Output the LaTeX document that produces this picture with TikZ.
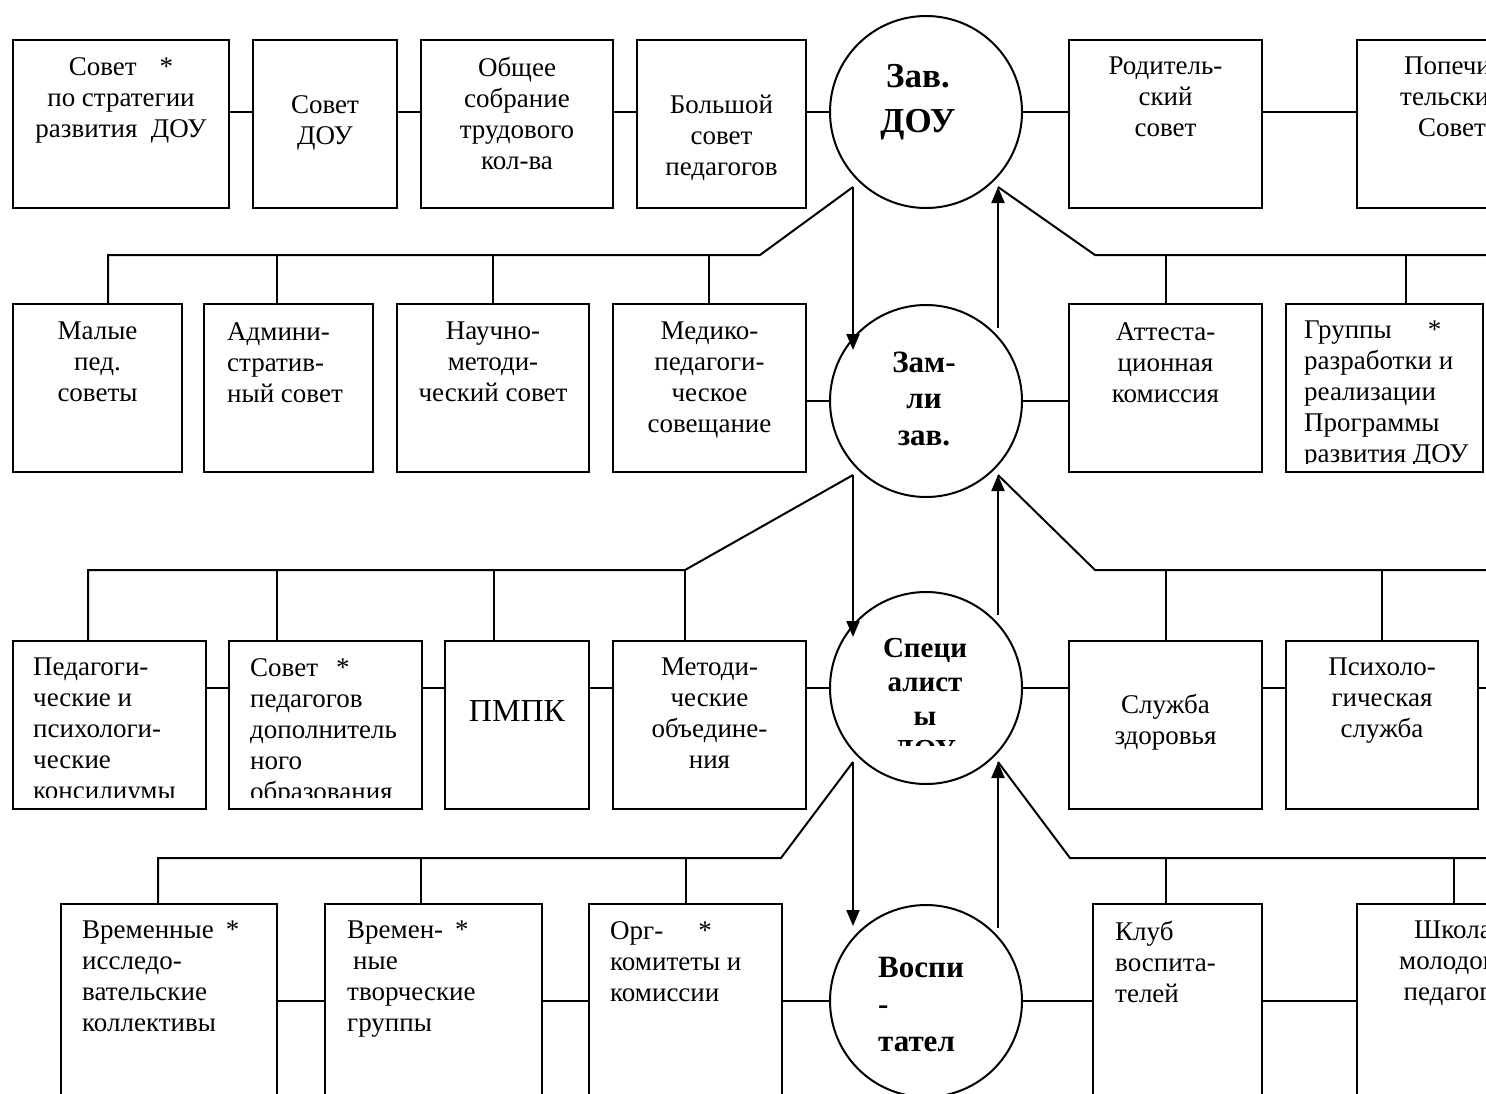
\documentclass[tikz,border=0pt]{standalone}
\usepackage{fontspec}
\setmainfont{Liberation Serif}
\usepackage{tikz}
\usetikzlibrary{positioning,calc,arrows.meta}

\tikzset{
  unit/.style={draw, line width=2pt, inner sep=0pt, outer sep=0pt, minimum height=168pt},
  head/.style={draw, circle, line width=2pt, inner sep=0pt, outer sep=0pt, minimum size=192pt},
  txt/.style={inner sep=0pt, anchor=north, align=center, yshift=-3pt, font=\fontsize{27}{31}\selectfont, execute at begin node=\strut},
  ltxt/.style={txt, anchor=north west, align=left},
  link/.style={line width=2pt},
  arr/.style={link, -{Triangle[length=16pt,width=13pt]}},
}

\begin{document}
\begin{tikzpicture}[x=1pt, y=-1pt]
\clip (0,0) rectangle (1486,1093);

% Row 1
\node[unit, minimum width=216pt] (sovstrat) at (121,124) {};
\node[unit, minimum width=144pt] (sovdou) at (325,124) {};
\node[unit, minimum width=192pt] (sobranie) at (517,124) {};
\node[unit, minimum width=169pt] (bolsov) at (721.5,124) {};
\node[head] (zav) at (926,112) {};
\node[unit, minimum width=193pt] (rodsov) at (1165.5,124) {};
\node[unit, minimum width=190pt] (popech) at (1452,124) {};

\node[txt] (sovstrat-t) at ([yshift=-14pt]sovstrat.north) {Совет\hspace{23pt}*\\по стратегии\\развития\ \ ДОУ};
\node[txt] (sovdou-t) at ([yshift=-52pt]sovdou.north) {Совет\\ДОУ};
\node[txt] (sobranie-t) at ([yshift=-14pt]sobranie.north) {Общее\\собрание\\трудового\\кол-ва};
\node[txt] (bolsov-t) at ([yshift=-52pt]bolsov.north) {Большой\\совет\\педагогов};
\node[txt, font=\bfseries\fontsize{35}{45}\selectfont] (zav-t) at ([xshift=-8pt,yshift=-45.5pt]zav.north) {Зав.\\ДОУ};
\node[txt] (rodsov-t) at ([yshift=-14pt]rodsov.north) {Родитель-\\ский\\совет};
\node[txt] (popech-t) at ([yshift=-14pt]popech.north) {Попечи-\\тельский\\Совет};

% Row 2
\node[unit, minimum width=169pt] (malye) at (97.5,388) {};
\node[unit, minimum width=169pt] (admin) at (288.5,388) {};
\node[unit, minimum width=192pt] (nauch) at (493,388) {};
\node[unit, minimum width=193pt] (medped) at (709.5,388) {};
\node[head] (zam) at (926,401) {};
\node[unit, minimum width=193pt] (attest) at (1165.5,388) {};
\node[unit, minimum width=197pt] (gruppy) at (1384.5,388) {};

\node[txt] (malye-t) at ([yshift=-15pt]malye.north) {Малые\\пед.\\советы};
\node[ltxt] (admin-t) at ([xshift=23pt,yshift=-15pt]admin.north west) {Админи-\\стратив-\\ный совет};
\node[txt] (nauch-t) at ([yshift=-15pt]nauch.north) {Научно-\\методи-\\ческий совет};
\node[txt] (medped-t) at ([yshift=-15pt]medped.north) {Медико-\\педагоги-\\ческое\\совещание};
\node[txt, font=\bfseries\fontsize{31}{36.5}\selectfont] (zam-t) at ([xshift=-2pt,yshift=-43.4pt]zam.north) {Зам-\\ли\\зав.};
\node[txt] (attest-t) at ([yshift=-15pt]attest.north) {Аттеста-\\ционная\\комиссия};
\begin{scope}
  \clip (gruppy.north west) rectangle ([yshift=9pt]gruppy.south east);
  \node[ltxt] (gruppy-t) at ([xshift=18pt,yshift=-14pt]gruppy.north west) {Группы\hspace{36pt}*\\разработки и\\реализации\\Программы\\развития ДОУ};
\end{scope}

% Row 3
\node[unit, minimum width=193pt] (pedkons) at (109.5,725) {};
\node[unit, minimum width=193pt] (sovdop) at (325.5,725) {};
\node[unit, minimum width=144pt] (pmpk) at (517,725) {};
\node[unit, minimum width=193pt] (metob) at (709.5,725) {};
\node[head] (spec) at (926,688) {};
\node[unit, minimum width=193pt] (zdorov) at (1165.5,725) {};
\node[unit, minimum width=192pt] (psiho) at (1382,725) {};

\begin{scope}
  \clip (pedkons.north west) rectangle ([yshift=12pt]pedkons.south east);
  \node[ltxt] (pedkons-t) at ([xshift=20pt,yshift=-14pt]pedkons.north west) {Педагоги-\\ческие и\\психологи-\\ческие\\консилиумы};
\end{scope}
\begin{scope}
  \clip (sovdop.north west) rectangle ([yshift=12pt]sovdop.south east);
  \node[ltxt] (sovdop-t) at ([xshift=21pt,yshift=-14pt]sovdop.north west) {Совет\hspace{18pt}*\\педагогов\\дополнитель\\ного\\образования};
\end{scope}
\node[txt, font=\fontsize{32}{37}\selectfont] (pmpk-t) at ([yshift=-51pt]pmpk.north) {ПМПК};
\node[txt] (metob-t) at ([yshift=-14pt]metob.north) {Методи-\\ческие\\объедине-\\ния};
\begin{scope}
  \clip ([xshift=-96pt]spec.north) rectangle ([yshift=-57pt]spec.east);
  \node[txt, font=\bfseries\fontsize{29}{34}\selectfont] (spec-t) at ([xshift=-1pt,yshift=-43.2pt]spec.north) {Специ\\алист\\ы\\ДОУ};
\end{scope}
\node[txt] (zdorov-t) at ([yshift=-50pt]zdorov.north) {Служба\\здоровья};
\node[txt] (psiho-t) at ([yshift=-14pt]psiho.north) {Психоло-\\гическая\\служба};

% Row 4
\node[unit, minimum width=216pt, minimum height=194pt] (vrisl) at (169,1001) {};
\node[unit, minimum width=217pt, minimum height=194pt] (vrtvor) at (433.5,1001) {};
\node[unit, minimum width=193pt, minimum height=194pt] (orgkom) at (685.5,1001) {};
\node[head] (vosp) at (926,1001) {};
\node[unit, minimum width=169pt, minimum height=194pt] (klub) at (1177.5,1001) {};
\node[unit, minimum width=192pt, minimum height=194pt] (shkola) at (1453,1001) {};

\node[ltxt] (vrisl-t) at ([xshift=21pt,yshift=-14pt]vrisl.north west) {Временные\hspace{12pt}*\\исследо-\\вательские\\коллективы};
\node[ltxt] (vrtvor-t) at ([xshift=22pt,yshift=-14pt]vrtvor.north west) {Времен-\hspace{12pt}*\\\hspace{6pt}ные\\творческие\\группы};
\node[ltxt] (orgkom-t) at ([xshift=21pt,yshift=-14pt]orgkom.north west) {Орг-\hspace{35pt}*\\комитеты и\\комиссии};
\node[ltxt, font=\bfseries\fontsize{31}{37}\selectfont] (vosp-t) at ([xshift=-48pt,yshift=-49pt]vosp.north) {Воспи\\-\\тател};
\node[ltxt] (klub-t) at ([xshift=22pt,yshift=-14pt]klub.north west) {Клуб\\воспита-\\телей};
\node[txt] (shkola-t) at ([yshift=-14pt]shkola.north) {Школа\\молодого\\педагога};

% Horizontal links
\foreach \a/\b in {sovstrat/sovdou,sovdou/sobranie,sobranie/bolsov,rodsov/popech}
  \draw[link] (\a.east |- zav.center) -- (\b.west |- zav.center);
\draw[link] (bolsov.east |- zav.center) -- (zav.west);
\draw[link] (zav.east) -- (rodsov.west |- zav.center);
\draw[link] (medped.east |- zam.center) -- (zam.west);
\draw[link] (zam.east) -- (attest.west |- zam.center);
\foreach \a/\b in {pedkons/sovdop,sovdop/pmpk,pmpk/metob,zdorov/psiho}
  \draw[link] (\a.east |- spec.center) -- (\b.west |- spec.center);
\draw[link] (metob.east |- spec.center) -- (spec.west);
\draw[link] (spec.east) -- (zdorov.west |- spec.center);
\coordinate (rim0) at (1490,688);
\draw[link] (psiho.east |- spec.center) -- (rim0);
\foreach \a/\b in {vrisl/vrtvor,vrtvor/orgkom,klub/shkola}
  \draw[link] (\a.east) -- (\b.west);
\draw[link] (orgkom.east) -- (vosp.west);
\draw[link] (vosp.east) -- (klub.west);

% Level 1 tree
\coordinate (j1l) at (853,187);
\coordinate (k1l) at (760,255);
\coordinate (j1r) at (998,187);
\coordinate (k1r) at (1095,255);
\coordinate (rim1) at (1490,255);
\draw[link] (j1l) -- (k1l) -- (108,0 |- k1l) -- (108,0 |- malye.north);
\foreach \x/\b in {277/admin,493/nauch,709/medped}
  \draw[link] (\x,0 |- k1l) -- (\x,0 |- \b.north);
\draw[link] (j1r) -- (k1r) -- (rim1);
\foreach \x/\b in {1166/attest,1406/gruppy}
  \draw[link] (\x,0 |- k1r) -- (\x,0 |- \b.north);
\draw[arr] (j1l) -- ($(j1l |- zam.139.5)+(0,12)$);
\draw[arr] ($(j1r |- zam.42.3)+(0,-9)$) -- (j1r);

% Level 2 tree
\coordinate (j2l) at (853,475);
\coordinate (k2l) at (685,570);
\coordinate (j2r) at (998,475);
\coordinate (k2r) at (1095,570);
\coordinate (rim2) at (1490,570);
\draw[link] (j2l) -- (k2l) -- (88,0 |- k2l) -- (88,0 |- pedkons.north);
\foreach \x/\b in {277/sovdop,494/pmpk,685/metob}
  \draw[link] (\x,0 |- k2l) -- (\x,0 |- \b.north);
\draw[link] (j2r) -- (k2r) -- (rim2);
\foreach \x/\b in {1166/zdorov,1382/psiho}
  \draw[link] (\x,0 |- k2r) -- (\x,0 |- \b.north);
\draw[arr] (j2l) -- ($(j2l |- spec.139.5)+(0,12)$);
\draw[arr] ($(j2r |- spec.42.3)+(0,-9)$) -- (j2r);

% Level 3 tree
\coordinate (j3l) at (853,762);
\coordinate (k3l) at (781,858);
\coordinate (j3r) at (998,762);
\coordinate (k3r) at (1070,858);
\coordinate (rim3) at (1490,858);
\draw[link] (j3l) -- (k3l) -- (158,0 |- k3l) -- (158,0 |- vrisl.north);
\foreach \x/\b in {421/vrtvor,686/orgkom}
  \draw[link] (\x,0 |- k3l) -- (\x,0 |- \b.north);
\draw[link] (j3r) -- (k3r) -- (rim3);
\foreach \x/\b in {1166/klub,1454/shkola}
  \draw[link] (\x,0 |- k3r) -- (\x,0 |- \b.north);
\draw[arr] (j3l) -- ($(j3l |- vosp.139.5)+(0,-12)$);
\draw[arr] ($(j3r |- vosp.42.3)+(0,-9)$) -- (j3r);

\end{tikzpicture}
\end{document}
